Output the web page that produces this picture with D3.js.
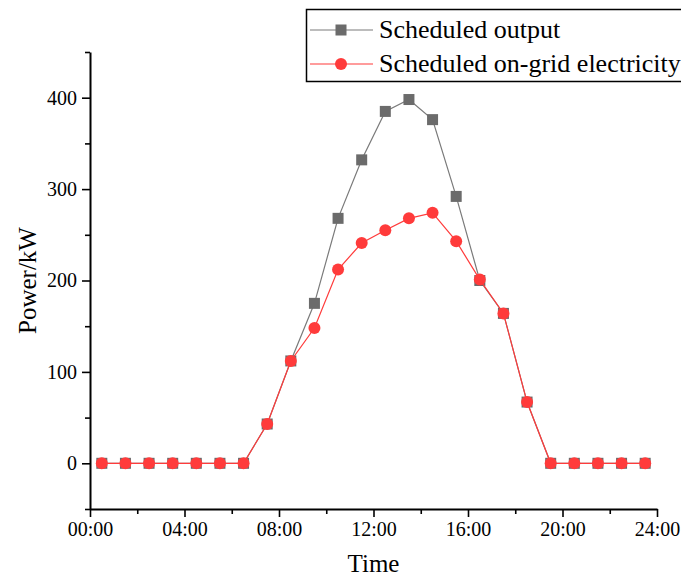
<!DOCTYPE html>
<html>
<head>
<meta charset="utf-8">
<script src="https://cdn.jsdelivr.net/npm/d3@7"></script>
<style>
  body { margin: 0; background: #fff; }
  text { font-family: "Palatino Linotype", "Book Antiqua", Palatino, "Liberation Serif", serif; fill: #000; }
</style>
</head>
<body>
<div id="chart"></div>
<script>
// hours at which each point sits (half past each hour)
const hours = [0.5, 1.5, 2.5, 3.5, 4.5, 5.5, 6.5, 7.5, 8.5, 9.5, 10.5, 11.5,
  12.5, 13.5, 14.5, 15.5, 16.5, 17.5, 18.5, 19.5, 20.5, 21.5, 22.5, 23.5];
const scheduledOutput = [0, 0, 0, 0, 0, 0, 0, 43, 112, 175, 268, 332,
  385, 398, 376, 292, 200, 164, 67, 0, 0, 0, 0, 0];
const onGrid = [0, 0, 0, 0, 0, 0, 0, 43, 112, 148, 212, 241,
  255, 268, 274, 243, 201, 164, 67, 0, 0, 0, 0, 0];
const xTicks = [0, 4, 8, 12, 16, 20, 24];
const xMinor = [2, 6, 10, 14, 18, 22];
const yTicks = [0, 100, 200, 300, 400];
const yMinor = [-50, 50, 150, 250, 350, 450];

const W = 681, H = 579;
const margin = { top: 52, right: 24, bottom: 70, left: 90 };

const svg = d3.select("#chart").append("svg").attr("width", W).attr("height", H);

const x = d3.scaleLinear().domain([0, 24]).range([margin.left, W - margin.right]);
const y = d3.scaleLinear().domain([-50, 450]).range([H - margin.bottom, margin.top]);

const fmtTime = (h) => String(h).padStart(2, "0") + ":00";

// minor ticks
svg.append("g").attr("transform", `translate(0,${y(-50)})`)
  .call(d3.axisBottom(x).tickValues(xMinor).tickSize(5).tickFormat(""))
  .call((g) => g.select(".domain").remove())
  .call((g) => g.selectAll("line").attr("stroke-width", 1.6));
svg.append("g").attr("transform", `translate(${x(0)},0)`)
  .call(d3.axisLeft(y).tickValues(yMinor).tickSize(5).tickFormat(""))
  .call((g) => g.select(".domain").remove())
  .call((g) => g.selectAll("line").attr("stroke-width", 1.6));

// major axes
const xAxis = svg.append("g").attr("transform", `translate(0,${y(-50)})`)
  .call(d3.axisBottom(x).tickValues(xTicks).tickSize(8).tickSizeOuter(0).tickPadding(5).tickFormat(fmtTime));
const yAxis = svg.append("g").attr("transform", `translate(${x(0)},0)`)
  .call(d3.axisLeft(y).tickValues(yTicks).tickSize(8).tickSizeOuter(0).tickPadding(5));

[xAxis, yAxis].forEach((g) => {
  g.select(".domain").attr("stroke-width", 2);
  g.selectAll("line").attr("stroke-width", 1.6);
  g.selectAll("text").style("font-size", "20px").attr("font-family", null);
});

// axis titles
svg.append("text").attr("x", x(12)).attr("y", 572).attr("text-anchor", "middle")
  .style("font-size", "25px").text("Time");
svg.append("text").attr("transform", `translate(36,${y(200)}) rotate(-90)`)
  .attr("text-anchor", "middle").style("font-size", "25px").text("Power/kW");

const gray = "#6b6b6b", red = "#ff3b3b";

const line = (vals) => d3.line().x((d, i) => x(hours[i])).y((d) => y(d))(vals);

// scheduled output (gray squares)
svg.append("path").attr("d", line(scheduledOutput)).attr("fill", "none")
  .attr("stroke", "#7a7a7a").attr("stroke-width", 1.2);
svg.selectAll(".sq").data(scheduledOutput).enter().append("rect")
  .attr("class", "sq")
  .attr("x", (d, i) => x(hours[i]) - 5.5).attr("y", (d) => y(d) - 5.5)
  .attr("width", 11).attr("height", 11).attr("fill", gray);

// on-grid electricity (red circles)
svg.append("path").attr("d", line(onGrid)).attr("fill", "none")
  .attr("stroke", red).attr("stroke-width", 1.2);
svg.selectAll(".dot").data(onGrid).enter().append("circle")
  .attr("class", "dot")
  .attr("cx", (d, i) => x(hours[i])).attr("cy", (d) => y(d))
  .attr("r", 6).attr("fill", red);

// legend
const lg = svg.append("g");
lg.append("rect").attr("x", 306.5).attr("y", 9.5).attr("width", 400).attr("height", 72)
  .attr("fill", "#fff").attr("stroke", "#000").attr("stroke-width", 1.5);
const items = [
  { label: "Scheduled output", color: gray, lineColor: "#7a7a7a", shape: "square", cy: 30 },
  { label: "Scheduled on-grid electricity", color: red, lineColor: red, shape: "circle", cy: 64 },
];
items.forEach((it) => {
  lg.append("line").attr("x1", 310).attr("x2", 373).attr("y1", it.cy).attr("y2", it.cy)
    .attr("stroke", it.lineColor).attr("stroke-width", 1.2);
  if (it.shape === "square") {
    lg.append("rect").attr("x", 341 - 5.5).attr("y", it.cy - 5.5).attr("width", 11).attr("height", 11).attr("fill", it.color);
  } else {
    lg.append("circle").attr("cx", 341).attr("cy", it.cy).attr("r", 6).attr("fill", it.color);
  }
  lg.append("text").attr("x", 379).attr("y", it.cy + 8).style("font-size", "26px").text(it.label);
});
</script>
</body>
</html>
